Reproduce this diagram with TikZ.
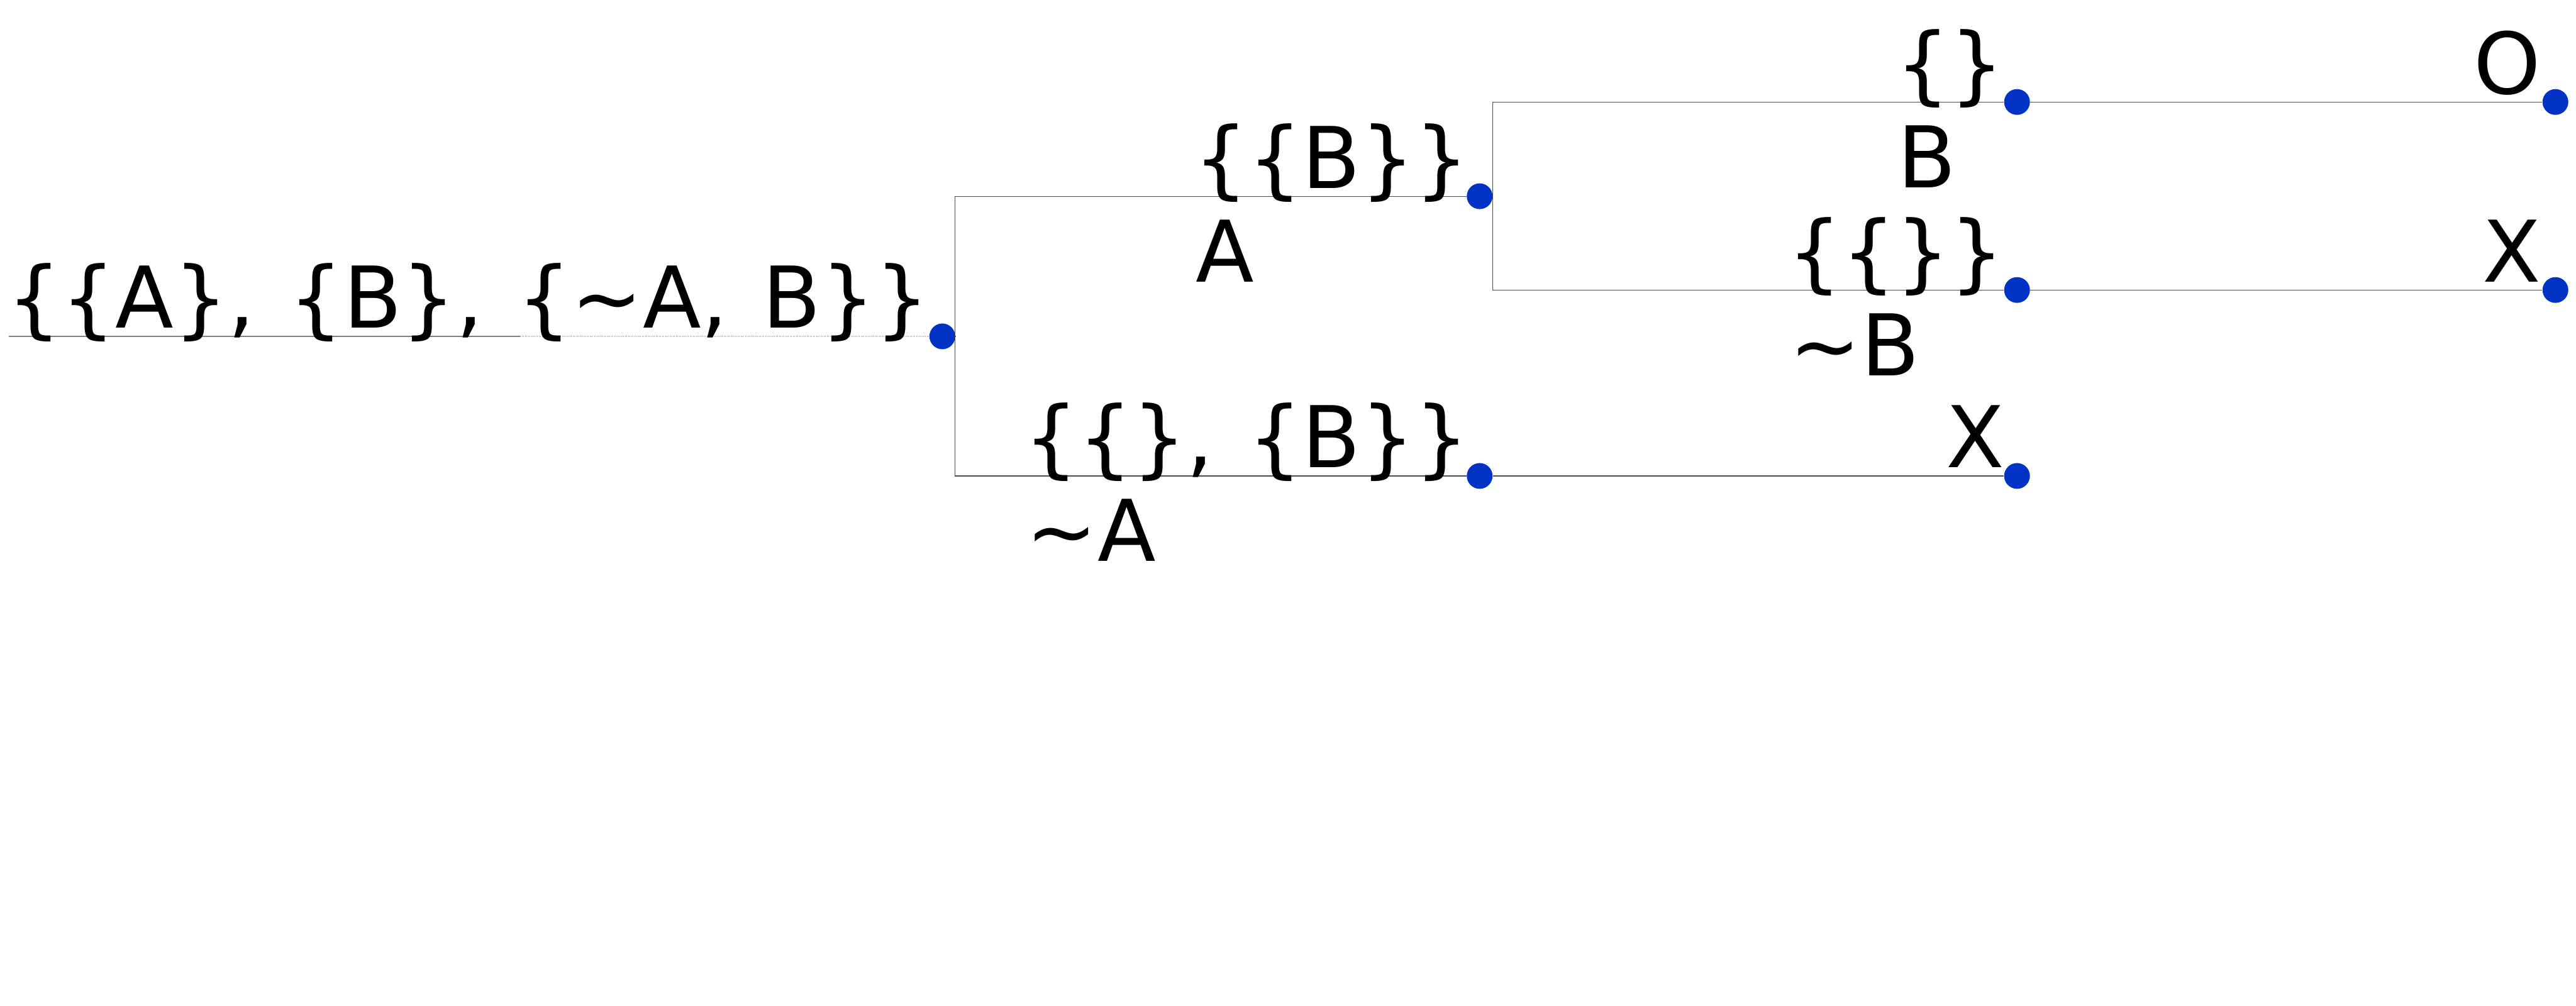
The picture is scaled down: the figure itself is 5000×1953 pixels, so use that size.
\documentclass[tikz,border=0pt]{standalone}
\usepackage{fontspec}
\setmainfont{DejaVu Sans}[WordSpace=1.27]
\usetikzlibrary{calc}
\definecolor{dotblue}{RGB}{3,51,196}

\begin{document}
\begin{tikzpicture}[x=0.01cm,y=-0.01cm,
    dot/.style={circle,fill=dotblue,inner sep=0pt,minimum size=0.5cm},
    lab/.style={anchor=base east,inner sep=0pt,font=\fontsize{47}{56}\selectfont},
    elab/.style={anchor=base west,inner sep=0pt,font=\fontsize{47}{56}\selectfont},
    edge/.style={black!70,line width=0.4pt}]
  \useasboundingbox (0,0) rectangle (5000,1953);
  \coordinate (start) at (17,653);
  \coordinate (fade) at (1010,653);
  \coordinate (rj) at (1854,653);
  \coordinate (aj) at (2897,381);
  \node[dot] (r) at (1829,653) {};
  \node[dot] (a) at (2872,381) {};
  \node[dot] (na) at (2872,924) {};
  \node[dot] (ab) at (3915,198) {};
  \node[dot] (anb) at (3915,563) {};
  \node[dot] (nax) at (3915,924) {};
  \node[dot] (abo) at (4960,198) {};
  \node[dot] (anbx) at (4960,563) {};
  \draw[gray,line width=0.6pt] (start) -- (fade);
  \draw[gray!60,line width=0.6pt,dash pattern=on 0.3pt off 0.55pt] (fade) -- (r);
  \draw[edge] (r) -- (rj);
  \draw[edge] (rj) |- (a);
  \draw[edge] (rj) |- (na);
  \draw[edge] (a) -- (aj);
  \draw[edge] (aj) |- (ab);
  \draw[edge] (aj) |- (anb);
  \draw[edge] (ab) -- (abo);
  \draw[edge] (anb) -- (anbx);
  \draw[edge] (na) -- (nax);
  \node[lab] (rl) at ($(r)+(-24,-16)$) {\{\{A\}, \{B\}, \{\textasciitilde A, B\}\}};
  \node[lab] (al) at ($(a)+(-20,-16)$) {\{\{B\}\}};
  \node[lab] (nal) at ($(na)+(-20,-16)$) {\{\{\}, \{B\}\}};
  \node[lab] (abl) at ($(ab)+(-24,-16)$) {\{\}};
  \node[lab] (anbl) at ($(anb)+(-24,-16)$) {\{\{\}\}};
  \node[lab] (naxl) at ($(nax)+(-24,-16)$) {X};
  \node[lab] (abol) at ($(abo)+(-28,-16)$) {O};
  \node[lab] (anbxl) at ($(anbx)+(-28,-16)$) {X};
  \node[elab] (ae) at ($(al.base west)+(4,182)$) {A};
  \node[elab] (nae) at ($(nal.base west)+(4,182)$) {\textasciitilde A};
  \node[elab] (abe) at ($(abl.base west)+(4,182)$) {B};
  \node[elab] (anbe) at ($(anbl.base west)+(4,182)$) {\textasciitilde B};
\end{tikzpicture}
\end{document}
